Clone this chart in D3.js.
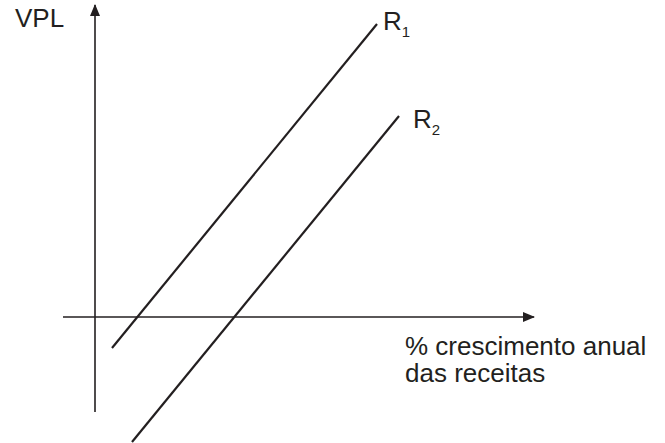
<!DOCTYPE html>
<html>
<head>
<meta charset="utf-8">
<script src="https://cdn.jsdelivr.net/npm/d3@7"></script>
<style>
  html, body { margin: 0; padding: 0; background: #fff; }
  svg { display: block; font-family: Arial, "Liberation Sans", sans-serif; }
</style>
</head>
<body>
<div id="chart"></div>
<script>
// series names and the end points of each line (abstract units, origin = axes crossing)
const seriesNames = ["R", "R"];
const seriesSubs = ["1", "2"];
const lineX = [[1.7, 28.2], [3.7, 30.4]];
const lineY = [[-3.1, 29.3], [-12.5, 20.1]];

// axis extents and labels
const xAxisExtent = [-3.2, 43.9];
const yAxisExtent = [-9.5, 31.2];
const yLabel = "VPL";
const xLabelLines = ["% crescimento anual", "das receitas"];

const width = 665;
const height = 443;
const ink = "#231f20";

const x = d3.scaleLinear().domain([-3.2, 43.9]).range([63, 534]);
const y = d3.scaleLinear().domain([-12.6, 31.2]).range([443, 5]);

const svg = d3.select("#chart")
  .append("svg")
  .attr("width", width)
  .attr("height", height);

const defs = svg.append("defs");
defs.append("marker")
  .attr("id", "arrow")
  .attr("viewBox", "0 0 12 10")
  .attr("refX", 11)
  .attr("refY", 5)
  .attr("markerWidth", 12)
  .attr("markerHeight", 10)
  .attr("markerUnits", "userSpaceOnUse")
  .attr("orient", "auto")
  .append("path")
  .attr("d", "M0,0 L12,5 L0,10 Z")
  .attr("fill", ink);

// x axis
svg.append("line")
  .attr("x1", x(xAxisExtent[0]))
  .attr("x2", x(xAxisExtent[1]))
  .attr("y1", y(0))
  .attr("y2", y(0))
  .attr("stroke", ink)
  .attr("stroke-width", 1.6)
  .attr("marker-end", "url(#arrow)");

// y axis
svg.append("line")
  .attr("x1", x(0))
  .attr("x2", x(0))
  .attr("y1", y(yAxisExtent[0]))
  .attr("y2", y(yAxisExtent[1]))
  .attr("stroke", ink)
  .attr("stroke-width", 1.6)
  .attr("marker-end", "url(#arrow)");

// the two lines
const lines = seriesNames.map((name, i) => ({
  name: name,
  sub: seriesSubs[i],
  pts: lineX[i].map((v, j) => [v, lineY[i][j]])
}));

svg.selectAll("path.series")
  .data(lines)
  .enter()
  .append("path")
  .attr("class", "series")
  .attr("d", d => d3.line().x(p => x(p[0])).y(p => y(p[1]))(d.pts))
  .attr("fill", "none")
  .attr("stroke", ink)
  .attr("stroke-width", 2.2);

// line labels next to the top end
const labelOffset = [[6, 6], [14, 12]];
const lab = svg.selectAll("text.series-label")
  .data(lines)
  .enter()
  .append("text")
  .attr("class", "series-label")
  .attr("x", (d, i) => x(d.pts[1][0]) + labelOffset[i][0])
  .attr("y", (d, i) => y(d.pts[1][1]) + labelOffset[i][1])
  .attr("fill", ink)
  .style("font-size", "26px");
lab.append("tspan").text(d => d.name);
lab.append("tspan")
  .attr("dy", 7)
  .style("font-size", "15px")
  .text(d => d.sub);

// axis titles
svg.append("text")
  .attr("x", 15)
  .attr("y", 27)
  .attr("fill", ink)
  .style("font-size", "26px")
  .text(yLabel);

svg.append("text")
  .attr("fill", ink)
  .style("font-size", "26px")
  .selectAll("tspan")
  .data(xLabelLines)
  .enter()
  .append("tspan")
  .attr("x", 405)
  .attr("y", (d, i) => 355 + i * 27)
  .text(d => d);
</script>
</body>
</html>
